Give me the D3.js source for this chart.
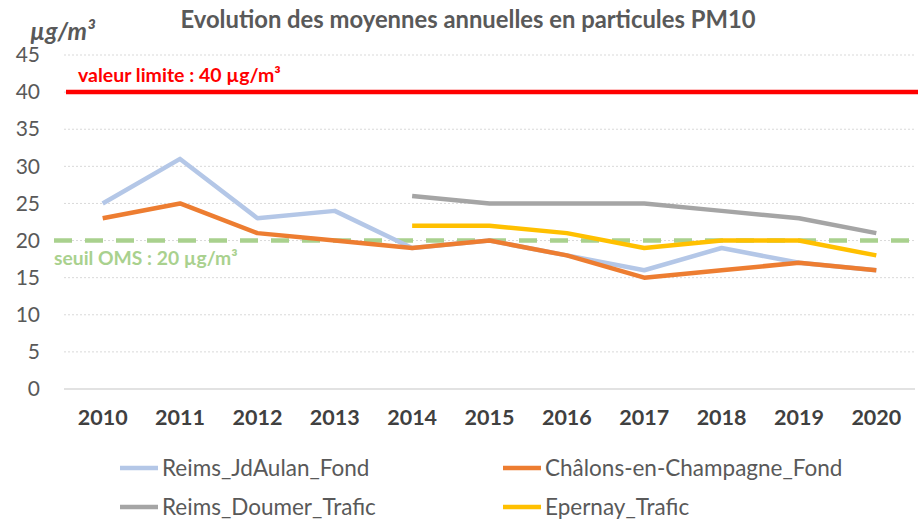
<!DOCTYPE html>
<html>
<head>
<meta charset="utf-8">
<title>PM10</title>
<style>
  body { margin: 0; background: #fff; }
  text { font-family: Lato, "Open Sans", sans-serif; }
</style>
</head>
<body>
<svg width="918" height="519"></svg>
<script src="https://cdn.jsdelivr.net/npm/d3@7"></script>
<script>
var years = ['2010', '2011', '2012', '2013', '2014', '2015', '2016', '2017', '2018', '2019', '2020'];
var yTicks = [0, 5, 10, 15, 20, 25, 30, 35, 40, 45];

var reimsJdAulan = [25, 31, 23, 24, 19, 20, 18, 16, 19, 17, 16];
var chalons = [23, 25, 21, 20, 19, 20, 18, 15, 16, 17, 16];
var reimsDoumer = [null, null, null, null, 26, 25, 25, 25, 24, 23, 21];
var epernay = [null, null, null, null, 22, 22, 21, 19, 20, 20, 18];

var limitValue = 40;
var omsValue = 20;

var series = [
  { name: 'Reims_JdAulan_Fond', values: reimsJdAulan, color: '#b4c7e7' },
  { name: 'Châlons-en-Champagne_Fond', values: chalons, color: '#ed7d31' },
  { name: 'Reims_Doumer_Trafic', values: reimsDoumer, color: '#a5a5a5' },
  { name: 'Epernay_Trafic', values: epernay, color: '#ffc000' }
];

var svg = d3.select('svg');
var plotLeft = 64, plotRight = 915, plotTop = 55, plotBottom = 389;

var x = d3.scaleBand().domain(years).range([plotLeft, plotRight]);
var y = d3.scaleLinear().domain([0, 45]).range([plotBottom, plotTop]);

// gridlines
svg.append('g')
  .selectAll('line')
  .data(yTicks.filter(function(d) { return d > 0; }))
  .enter().append('line')
    .attr('x1', plotLeft).attr('x2', plotRight)
    .attr('y1', function(d) { return y(d); })
    .attr('y2', function(d) { return y(d); })
    .attr('stroke', '#d9d9d9')
    .attr('stroke-width', 1)
    .attr('stroke-dasharray', '2,2');

// x axis baseline
svg.append('line')
  .attr('x1', plotLeft).attr('x2', plotRight)
  .attr('y1', y(0)).attr('y2', y(0))
  .attr('stroke', '#d9d9d9')
  .attr('stroke-width', 1.5);

// y axis labels
var yAxis = d3.axisLeft(y).tickValues(yTicks).tickSize(0).tickPadding(0);
var gy = svg.append('g').attr('transform', 'translate(40,0)').call(yAxis);
gy.select('.domain').remove();
gy.selectAll('text')
  .attr('fill', '#595959')
  .style('font-size', '21px')
  .style('font-family', 'Lato, sans-serif');

// x axis labels
var xAxis = d3.axisBottom(x).tickSize(0).tickPadding(0);
var gx = svg.append('g').attr('transform', 'translate(0,' + (plotBottom + 21) + ')').call(xAxis);
gx.select('.domain').remove();
gx.selectAll('text')
  .attr('fill', '#404040')
  .style('font-size', '21.5px')
  .style('font-weight', 'bold')
  .style('font-family', 'Lato, sans-serif');

// OMS threshold
svg.append('line')
  .attr('x1', 54).attr('x2', 918)
  .attr('y1', y(omsValue)).attr('y2', y(omsValue))
  .attr('stroke', '#a9d18e')
  .attr('stroke-width', 4.5)
  .attr('stroke-dasharray', '18,13');

// limit value
svg.append('line')
  .attr('x1', plotLeft + 2).attr('x2', 918)
  .attr('y1', y(limitValue)).attr('y2', y(limitValue))
  .attr('stroke', '#ff0000')
  .attr('stroke-width', 4.5);

// series lines
var line = d3.line()
  .defined(function(d) { return d != null; })
  .x(function(d, i) { return x(years[i]) + x.bandwidth() / 2; })
  .y(function(d) { return y(d); });

svg.append('g')
  .selectAll('path')
  .data(series)
  .enter().append('path')
    .attr('d', function(d) { return line(d.values); })
    .attr('fill', 'none')
    .attr('stroke', function(d) { return d.color; })
    .attr('stroke-width', 4.5)
    .attr('stroke-linejoin', 'round');

// annotations
svg.append('text')
  .attr('x', 78).attr('y', 82)
  .attr('fill', '#ff0000')
  .style('font-size', '19.5px')
  .style('font-weight', 'bold')
  .text('valeur limite : 40 µg/m³');

svg.append('text')
  .attr('x', 54).attr('y', 265)
  .attr('fill', '#a9d18e')
  .style('font-size', '19.3px')
  .style('font-weight', 'bold')
  .text('seuil OMS : 20 µg/m³');

// title
svg.append('text')
  .attr('x', 468).attr('y', 28)
  .attr('text-anchor', 'middle')
  .attr('fill', '#595959')
  .style('font-size', '23.8px')
  .style('font-weight', 'bold')
  .text('Evolution des moyennes annuelles en particules PM10');

// unit
svg.append('text')
  .attr('x', 30).attr('y', 40)
  .attr('fill', '#595959')
  .style('font-size', '24.5px')
  .style('font-weight', 'bold')
  .style('font-style', 'italic')
  .text('µg/m³');

// legend
var legendPos = [[120, 468], [503, 468], [120, 507], [503, 507]];
var legend = svg.append('g')
  .selectAll('g')
  .data(series)
  .enter().append('g')
    .attr('transform', function(d, i) { return 'translate(' + legendPos[i][0] + ',' + legendPos[i][1] + ')'; });

legend.append('line')
  .attr('x1', 0).attr('x2', 38)
  .attr('y1', 0).attr('y2', 0)
  .attr('stroke', function(d) { return d.color; })
  .attr('stroke-width', 4.5);

legend.append('text')
  .attr('x', 42).attr('y', 8)
  .attr('fill', '#595959')
  .style('font-size', '22.5px')
  .text(function(d) { return d.name; });
</script>
</body>
</html>
